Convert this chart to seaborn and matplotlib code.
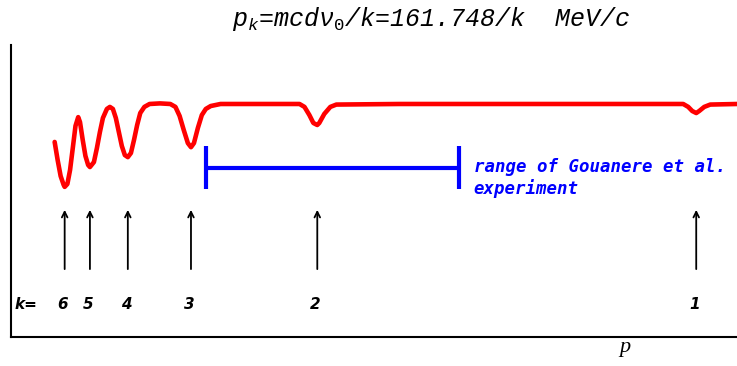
import pandas as pd
import matplotlib
matplotlib.use('Agg')
import matplotlib.pyplot as plt
import seaborn as sns

# resonance momenta p_k = 161.748/k (MeV/c)
k_values = [6, 5, 4, 3, 2, 1]
p_k = [161.748 / k for k in k_values]

# red curve (p in MeV/c, signal in arbitrary units)
curve_p = [24.82, 25.46, 26.10, 26.74, 26.96, 27.54, 28.11, 28.69, 29.27, 29.85,
           30.23, 30.81, 31.39, 31.97, 32.35, 33.20, 33.84, 34.48, 35.12, 35.97,
           36.61, 37.25, 37.88, 38.52, 39.16, 39.80, 40.44, 41.10, 41.76, 42.43,
           43.09, 43.97, 45.08, 47.29, 49.50, 50.60, 51.49, 52.37, 53.25, 53.92,
           54.55, 55.39, 56.23, 57.08, 58.13, 60.23, 77.08, 78.14, 79.19, 80.03,
           80.87, 81.30, 82.37, 83.66, 84.94, 98.42, 158.97, 160.04, 160.89, 161.75,
           162.39, 163.46, 164.74, 170.50]
curve_v = [66.8, 60.6, 55.1, 52.1, 51.4, 52.4, 57.2, 64.7, 72.3, 75.3,
           73.6, 67.5, 62.0, 58.9, 58.2, 59.9, 64.7, 70.2, 75.0, 78.1,
           78.8, 78.1, 75.0, 70.2, 65.4, 62.3, 61.6, 63.0, 67.5, 72.6,
           76.7, 78.8, 79.8, 80.0, 79.8, 78.8, 75.7, 70.9, 66.4, 65.0,
           66.4, 71.6, 76.0, 78.1, 79.1, 79.8, 79.8, 78.8, 76.0, 73.3,
           72.6, 73.3, 76.4, 78.8, 79.6, 79.8, 79.8, 78.8, 77.4, 76.7,
           77.4, 78.8, 79.6, 79.8]

# Gouanere et al. experiment range
range_lo, range_hi = 57.07, 111.04
range_level = 58.0

df = pd.DataFrame({'p': curve_p, 'signal': curve_v})

sns.set_style('white')
plt.rcParams['mathtext.fontset'] = 'custom'
plt.rcParams['mathtext.it'] = 'Liberation Mono:italic'
plt.rcParams['mathtext.rm'] = 'Liberation Mono'

fig = plt.figure(figsize=(7.37, 3.66), dpi=100)
ax = fig.add_axes([11 / 737, 29 / 366, 726 / 737, 292 / 366])

sns.lineplot(data=df, x='p', y='signal', ax=ax, color='red', lw=3.3, sort=False)

# experiment range bar
ax.plot([range_lo, range_hi], [range_level, range_level], color='blue', lw=3)
ax.vlines([range_lo, range_hi], range_level - 7.3, range_level + 7.3, color='blue', lw=3)
ax.text(range_hi + 3.2, range_level - 3.5, 'range of Gouanere et al.\nexperiment',
        color='blue', fontsize=12.5, family='DejaVu Sans Mono', weight='bold',
        style='italic', va='center', ha='left', linespacing=1.2)

# arrows and k labels
for k, p in zip(k_values, p_k):
    ax.annotate('', xy=(p, 44.5), xytext=(p, 22.3),
                arrowprops=dict(arrowstyle='->', color='black', lw=1.3,
                                mutation_scale=10))
    ax.text(p - 0.4, 11.3, str(k), ha='center', va='center', fontsize=11,
            weight='bold', style='italic', family='DejaVu Sans', color='black')
ax.text(16.3, 11.3, 'k=', ha='left', va='center', fontsize=11,
        weight='bold', style='italic', family='DejaVu Sans', color='black')

fig.text(431 / 737, 1 - 19 / 366, r'$p_k$=mcd$\nu_0$/k=161.748/k  MeV/c',
         ha='center', va='center', fontsize=18, family='Liberation Mono',
         style='italic', color='black')

ax.set_xlim(15.505, 170.45)
ax.set_ylim(0, 100)
ax.set_xticks([])
ax.set_yticks([])
ax.set_xlabel('')
ax.set_ylabel('')
ax.text(0.846, -0.051, 'p', transform=ax.transAxes, ha='center', va='baseline',
        fontsize=16, family='Liberation Serif', style='italic', color='black',
        clip_on=False)
sns.despine(ax=ax)
for side in ['left', 'bottom']:
    ax.spines[side].set_linewidth(1.5)
    ax.spines[side].set_color('black')

fig.savefig('out.png', dpi=100)
